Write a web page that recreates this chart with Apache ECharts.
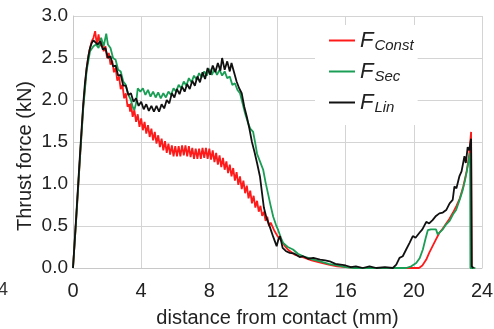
<!DOCTYPE html>
<html>
<head>
<meta charset="utf-8">
<script src="https://cdn.jsdelivr.net/npm/echarts@6/dist/echarts.min.js"></script>
<style>html,body{margin:0;padding:0;background:#fff;}#c{width:494px;height:329px;}</style>
</head>
<body>
<div id="c"></div>
<script>
// ---- data ----
const xTicks = [0, 4, 8, 12, 16, 20, 24];
const yTicks = [0.0, 0.5, 1.0, 1.5, 2.0, 2.5, 3.0];
const seriesNames = ['FConst', 'FSec', 'FLin'];
const xTitle = 'distance from contact (mm)';
const yTitle = 'Thrust force (kN)';

const fConst = [
[0,0],[0.2,0.62],[0.4,1.28],[0.6,1.92],[0.8,2.38],[0.95,2.58],[1.1,2.7],[1.2,2.74],[1.3,2.82],[1.4,2.66],
[1.5,2.78],[1.6,2.64],[1.7,2.7],[1.8,2.58],[1.9,2.64],[2.0,2.5],[2.1,2.56],[2.2,2.42],[2.3,2.47],[2.4,2.33],
[2.5,2.38],[2.6,2.23],[2.7,2.28],[2.8,2.13],[2.9,2.18],[3.0,2.02],[3.1,2.08],[3.2,1.92],[3.3,1.95],[3.35,1.86],
[3.4,1.96],[3.5,1.8],[3.6,1.88],[3.7,1.74],[3.8,1.83],[3.9,1.68],[4.0,1.78],[4.1,1.64],[4.2,1.74],[4.3,1.6],
[4.4,1.7],[4.5,1.56],[4.6,1.66],[4.7,1.52],[4.8,1.62],[4.9,1.48],[5.0,1.58],[5.1,1.44],[5.2,1.54],[5.3,1.4],
[5.4,1.51],[5.5,1.37],[5.6,1.48],[5.7,1.35],[5.8,1.46],[5.9,1.33],[6.0,1.45],[6.1,1.33],[6.2,1.45],[6.3,1.33],
[6.4,1.46],[6.5,1.34],[6.6,1.46],[6.7,1.33],[6.8,1.45],[6.9,1.32],[7.0,1.43],[7.1,1.3],[7.2,1.42],[7.3,1.3],
[7.4,1.42],[7.5,1.3],[7.6,1.43],[7.7,1.31],[7.8,1.43],[7.9,1.3],[8.0,1.42],[8.1,1.29],[8.2,1.4],[8.3,1.26],
[8.4,1.37],[8.5,1.23],[8.6,1.34],[8.7,1.2],[8.8,1.31],[8.9,1.17],[9.0,1.27],[9.1,1.13],[9.2,1.23],[9.3,1.09],
[9.4,1.19],[9.5,1.04],[9.6,1.14],[9.7,0.99],[9.8,1.09],[9.9,0.94],[10.0,1.04],[10.1,0.89],[10.2,0.98],[10.3,0.83],
[10.4,0.92],[10.5,0.77],[10.6,0.86],[10.7,0.72],[10.8,0.8],[10.9,0.67],[11.0,0.74],[11.1,0.62],[11.2,0.67],[11.3,0.56],
[11.4,0.61],[11.5,0.5],[11.6,0.54],[11.8,0.45],[12.0,0.38],[12.2,0.33],[12.4,0.27],[12.6,0.22],[12.8,0.19],[13.0,0.16],
[13.3,0.14],[13.6,0.12],[14.0,0.09],[14.4,0.07],[15.0,0.04],[15.5,0.02],[16.0,0.01],[17.0,0],[20.3,0],[20.5,0.03],
[20.73,0.1],[20.9,0.18],[21.1,0.26],[21.3,0.34],[21.5,0.42],[21.7,0.47],[21.9,0.53],[22.1,0.59],[22.3,0.66],[22.5,0.74],
[22.7,0.83],[22.9,0.97],[23.1,1.15],[23.25,1.35],[23.36,1.62],[23.4,0],[23.6,0]
];

const fSec = [
[0,0],[0.2,0.62],[0.4,1.28],[0.6,1.9],[0.8,2.35],[1.0,2.58],[1.2,2.64],[1.35,2.66],[1.5,2.62],[1.65,2.74],
[1.8,2.64],[1.95,2.79],[2.05,2.66],[2.2,2.62],[2.35,2.5],[2.5,2.48],[2.65,2.36],[2.8,2.34],[2.95,2.22],[3.1,2.18],
[3.25,2.06],[3.4,2.0],[3.5,1.92],[3.6,1.88],[3.7,1.96],[3.8,2.14],[3.95,2.1],[4.1,2.14],[4.25,2.06],[4.4,2.12],
[4.55,2.04],[4.7,2.1],[4.85,2.03],[5.0,2.09],[5.15,2.02],[5.3,2.08],[5.45,2.03],[5.6,2.1],[5.75,2.06],[5.9,2.14],
[6.05,2.1],[6.2,2.18],[6.35,2.14],[6.5,2.22],[6.65,2.17],[6.8,2.26],[6.95,2.21],[7.1,2.29],[7.25,2.24],[7.4,2.32],
[7.55,2.27],[7.7,2.34],[7.85,2.29],[8.0,2.37],[8.15,2.3],[8.3,2.37],[8.45,2.3],[8.6,2.36],[8.75,2.29],[8.9,2.34],
[9.05,2.26],[9.2,2.28],[9.35,2.18],[9.5,2.2],[9.65,2.12],[9.8,2.08],[9.95,1.96],[10.1,1.84],[10.25,1.74],[10.4,1.66],
[10.57,1.62],[10.7,1.48],[10.8,1.36],[10.97,1.27],[11.16,1.17],[11.3,1.02],[11.45,0.88],[11.6,0.74],[11.75,0.61],[11.9,0.52],
[12.04,0.45],[12.2,0.36],[12.33,0.3],[12.6,0.25],[12.91,0.22],[13.2,0.17],[13.5,0.14],[13.8,0.12],[14.09,0.1],[14.5,0.08],
[15.0,0.05],[15.5,0.03],[16.0,0.01],[16.5,0],[19.55,0],[19.85,0.02],[20.14,0.06],[20.35,0.12],[20.53,0.22],[20.7,0.36],
[20.82,0.45],[21.0,0.46],[21.3,0.46],[21.4,0.4],[21.5,0.4],[21.7,0.46],[21.9,0.52],[22.1,0.56],[22.3,0.64],[22.48,0.69],
[22.7,0.82],[22.87,0.93],[23.0,1.04],[23.16,1.21],[23.3,1.37],[23.32,0],[23.6,0]
];

const fLin = [
[0,0],[0.2,0.65],[0.4,1.32],[0.5,1.64],[0.6,1.95],[0.7,2.2],[0.8,2.38],[0.9,2.52],[1.0,2.62],[1.1,2.68],
[1.2,2.71],[1.3,2.73],[1.45,2.66],[1.6,2.7],[1.75,2.6],[1.9,2.62],[2.05,2.5],[2.2,2.52],[2.35,2.4],[2.5,2.41],
[2.65,2.29],[2.8,2.3],[2.95,2.17],[3.1,2.17],[3.25,2.06],[3.4,2.08],[3.55,1.98],[3.7,2.02],[3.85,1.93],[4.0,1.98],
[4.15,1.89],[4.3,1.95],[4.45,1.87],[4.6,1.93],[4.75,1.86],[4.9,1.93],[5.05,1.86],[5.2,1.95],[5.35,1.9],[5.5,2.0],
[5.65,1.96],[5.8,2.08],[5.95,2.03],[6.1,2.13],[6.25,2.07],[6.4,2.16],[6.55,2.1],[6.7,2.19],[6.85,2.13],[7.0,2.23],
[7.15,2.17],[7.3,2.28],[7.45,2.21],[7.6,2.33],[7.75,2.25],[7.9,2.38],[8.05,2.3],[8.2,2.41],[8.35,2.33],[8.5,2.44],
[8.65,2.35],[8.75,2.5],[8.9,2.36],[9.05,2.46],[9.2,2.34],[9.3,2.44],[9.45,2.33],[9.6,2.22],[9.75,2.14],[9.9,2.08],
[10.05,1.92],[10.2,1.8],[10.35,1.66],[10.5,1.5],[10.65,1.38],[10.8,1.25],[10.97,1.09],[11.1,0.88],[11.2,0.72],[11.35,0.6],
[11.55,0.49],[11.75,0.37],[11.95,0.26],[12.05,0.34],[12.15,0.38],[12.3,0.24],[12.5,0.2],[12.72,0.18],[13.0,0.17],[13.3,0.13],
[13.5,0.14],[13.8,0.11],[14.1,0.12],[14.5,0.1],[14.8,0.09],[15.06,0.08],[15.4,0.05],[15.7,0.04],[16.0,0.03],[16.3,0.01],
[16.6,0.02],[17.0,0],[17.4,0.02],[17.8,0],[18.3,0.01],[18.77,0],[18.97,0.04],[19.16,0.12],[19.35,0.14],[19.55,0.22],
[19.75,0.3],[19.94,0.38],[20.1,0.36],[20.33,0.42],[20.5,0.46],[20.73,0.55],[20.9,0.53],[21.1,0.57],[21.3,0.62],[21.5,0.65],
[21.7,0.66],[21.9,0.69],[22.1,0.77],[22.28,0.81],[22.38,0.97],[22.5,0.95],[22.67,1.09],[22.8,1.15],[22.97,1.33],[23.05,1.25],
[23.16,1.44],[23.25,1.4],[23.36,1.54],[23.4,0.02],[23.5,0]
];

const colors = ['#ff1a1a', '#1a9e55', '#111111'];
const FONT = '"Liberation Sans", Arial, sans-serif';
const TXT = '#222';

const chart = echarts.init(document.getElementById('c'), null, {renderer: 'canvas'});
const dataSets = [fConst, fSec, fLin];

chart.setOption({
  animation: false,
  backgroundColor: '#fff',
  grid: {left: 73, right: 12, top: 16, bottom: 61, containLabel: false, outerBoundsMode: 'none'},
  xAxis: {
    type: 'value', min: xTicks[0], max: xTicks[xTicks.length - 1], interval: 4,
    name: xTitle, nameLocation: 'middle', nameGap: 40,
    nameTextStyle: {fontFamily: FONT, fontSize: 20, color: TXT},
    axisLine: {show: true, onZero: false, lineStyle: {color: '#c8c8c8', width: 1}},
    axisTick: {show: false},
    axisLabel: {fontFamily: FONT, fontSize: 20, color: TXT, margin: 13},
    splitLine: {show: true, lineStyle: {color: '#d4d4d4', width: 1}}
  },
  yAxis: {
    type: 'value', min: yTicks[0], max: yTicks[yTicks.length - 1], interval: 0.5,
    axisLine: {show: true, lineStyle: {color: '#c8c8c8', width: 1}},
    axisTick: {show: false},
    axisLabel: {fontFamily: FONT, fontSize: 19, color: TXT, margin: 5, formatter: v => v.toFixed(1)},
    splitLine: {show: true, lineStyle: {color: '#d4d4d4', width: 1}}
  },
  legend: {
    orient: 'vertical', left: 315, top: 25,
    backgroundColor: '#fff', padding: [3, 4, 10, 14], itemGap: 6,
    icon: 'rect', itemWidth: 26, itemHeight: 2,
    data: seriesNames,
    formatter: n => '{f|F}{s|' + n.slice(1) + '}',
    textStyle: {
      fontFamily: FONT, color: TXT,
      rich: {
        f: {fontFamily: FONT, fontSize: 22, fontStyle: 'italic', color: TXT, lineHeight: 24},
        s: {fontFamily: FONT, fontSize: 15, fontStyle: 'italic', color: TXT, lineHeight: 14, padding: [10, 0, 0, 1]}
      }
    }
  },
  graphic: [
    {type: 'text', left: -2, top: 281, style: {text: '4', font: '18px ' + FONT, fill: '#333'}},
    {type: 'text', x: 25, y: 156, rotation: Math.PI / 2,
     style: {text: yTitle, font: '20px ' + FONT, fill: TXT, align: 'center', verticalAlign: 'middle'}}
  ],
  series: seriesNames.map((n, i) => ({
    name: n, type: 'line', data: dataSets[i], showSymbol: false, symbol: 'none',
    color: colors[i], lineStyle: {width: 1.8, color: colors[i]}, z: 2 + i
  }))
});
</script>
</body>
</html>
